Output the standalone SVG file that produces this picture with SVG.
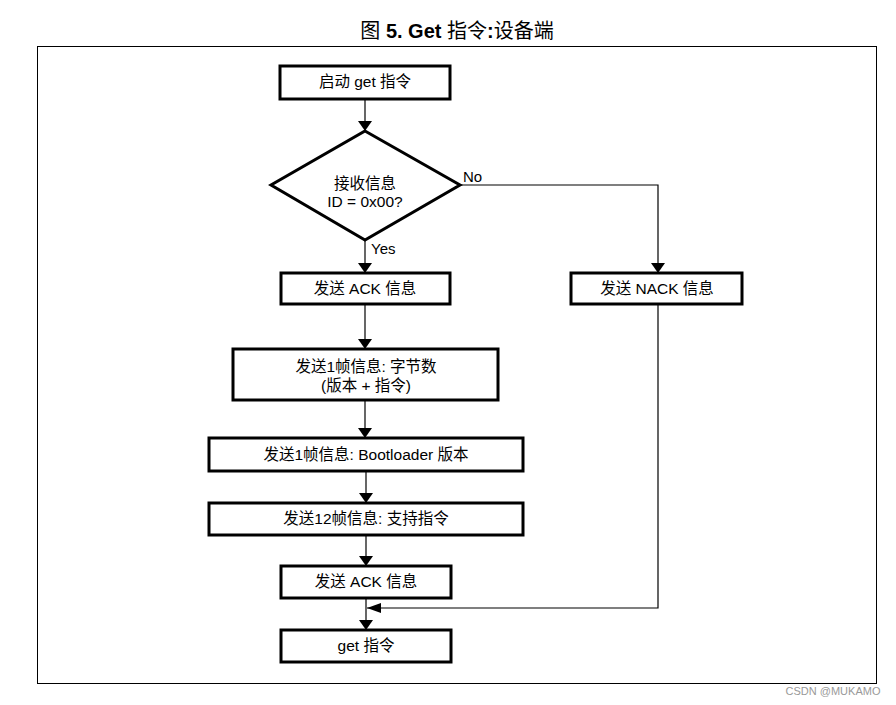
<svg xmlns="http://www.w3.org/2000/svg" width="896" height="705" viewBox="0 0 896 705">
<defs>
<marker id="arr" markerWidth="10" markerHeight="14" refX="10" refY="7" orient="auto" markerUnits="userSpaceOnUse" viewBox="0 0 10 14">
<path d="M0,0 L10,7 L0,14 Z" fill="#000"/>
</marker>
<marker id="arrL" markerWidth="14" markerHeight="10" refX="14" refY="5" orient="auto" markerUnits="userSpaceOnUse" viewBox="0 0 14 10">
<path d="M0,0 L14,5 L0,10 Z" fill="#000"/>
</marker>
</defs>
<style>
.box{fill:#fff;stroke:#000;stroke-width:3}
.t{font-family:"Liberation Sans","Noto Sans CJK SC",sans-serif;font-size:15.5px;fill:#000;text-anchor:middle}
.lbl{font-family:"Liberation Sans","Noto Sans CJK SC",sans-serif;font-size:15px;fill:#000}
.c{fill:none;stroke:#000;stroke-width:1.2}
</style>
<rect width="896" height="705" fill="#fff"/>
<text x="457" y="38" font-family="'Liberation Sans','Noto Sans CJK SC',sans-serif" font-size="20" text-anchor="middle">图 <tspan font-weight="bold">5. Get</tspan> 指令<tspan font-weight="bold">:</tspan>设备端</text>
<rect x="37.5" y="46.5" width="839" height="637" fill="none" stroke="#000" stroke-width="1"/>
<g id="connectors">
<line class="c" x1="365" y1="99" x2="365" y2="131" marker-end="url(#arr)"/>
<path class="c" d="M461,185 H658 V273" marker-end="url(#arr)"/>
<line class="c" x1="365" y1="240" x2="365" y2="273" marker-end="url(#arr)"/>
<line class="c" x1="365" y1="304" x2="365" y2="349" marker-end="url(#arr)"/>
<line class="c" x1="365" y1="400" x2="365" y2="438" marker-end="url(#arr)"/>
<line class="c" x1="366" y1="471" x2="366" y2="503" marker-end="url(#arr)"/>
<line class="c" x1="366" y1="535" x2="366" y2="566" marker-end="url(#arr)"/>
<line class="c" x1="366" y1="598" x2="366" y2="630" marker-end="url(#arr)"/>
<path class="c" d="M658,304 V608 H367" marker-end="url(#arrL)"/>
<text class="lbl" x="463" y="182">No</text>
<text class="lbl" x="371" y="254">Yes</text>
</g>
<g id="start"><rect class="box" x="280" y="66" width="170" height="33"/><text class="t" x="365" y="87">启动 get 指令</text></g>
<g id="decision"><polygon points="365,131 460,185 365,240 271,185" fill="#fff" stroke="#000" stroke-width="3" stroke-linejoin="miter"/><text class="t" x="365" y="189">接收信息</text><text class="t" x="365" y="207">ID = 0x00?</text></g>
<g id="ack1"><rect class="box" x="281" y="273" width="169" height="31"/><text class="t" x="365" y="294">发送 ACK 信息</text></g>
<g id="nack"><rect class="box" x="571" y="273" width="171" height="31"/><text class="t" x="657" y="294">发送 NACK 信息</text></g>
<g id="bytes"><rect class="box" x="233" y="349" width="265" height="51"/><text class="t" x="366" y="372">发送1帧信息: 字节数</text><text class="t" x="366" y="391">(版本 + 指令)</text></g>
<g id="bootver"><rect class="box" x="209" y="438" width="314" height="33"/><text class="t" x="366" y="460">发送1帧信息: Bootloader 版本</text></g>
<g id="cmds"><rect class="box" x="209" y="503" width="314" height="32"/><text class="t" x="366" y="524">发送12帧信息: 支持指令</text></g>
<g id="ack2"><rect class="box" x="281" y="566" width="170" height="32"/><text class="t" x="366" y="587">发送 ACK 信息</text></g>
<g id="end"><rect class="box" x="281" y="630" width="170" height="32"/><text class="t" x="366" y="651">get 指令</text></g>
<text x="833" y="695" font-family="'Liberation Sans',sans-serif" font-size="11" fill="#999" text-anchor="middle">CSDN @MUKAMO</text>
</svg>
